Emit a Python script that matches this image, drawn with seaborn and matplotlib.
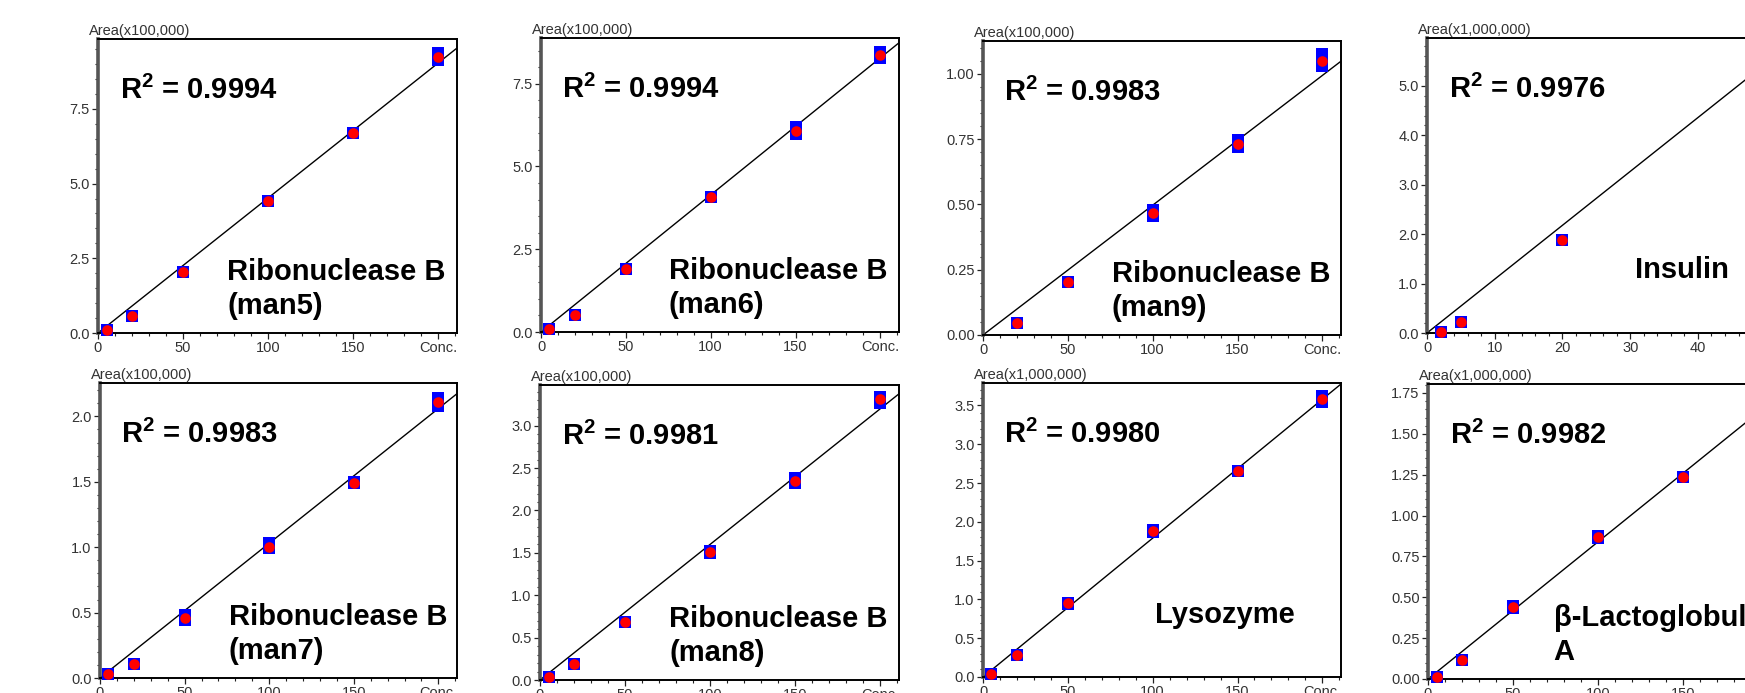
import numpy as np
import pandas as pd
import matplotlib
matplotlib.use("Agg")
import matplotlib.pyplot as plt
import seaborn as sns
from matplotlib.ticker import MultipleLocator, FixedLocator, FixedFormatter

# concentrations
conc_rib = [5, 20, 50, 100, 150, 200]
conc_man9 = [20, 50, 100, 150, 200]
conc_ins = [2, 5, 20]
conc_lac = [5, 20, 50, 100, 150]

# peak areas (two replicates in blue, mean in red)
man5_rep1 = [0.10, 0.57, 2.03, 4.43, 6.70, 9.36]
man5_rep2 = [0.10, 0.57, 2.03, 4.43, 6.68, 9.13]
man5_mean = [0.10, 0.57, 2.03, 4.43, 6.68, 9.25]

man6_rep1 = [0.09, 0.52, 1.90, 4.07, 6.18, 8.45]
man6_rep2 = [0.09, 0.52, 1.90, 4.07, 5.98, 8.27]
man6_mean = [0.09, 0.52, 1.90, 4.07, 6.08, 8.38]

man9_rep1 = [0.045, 0.204, 0.480, 0.745, 1.075]
man9_rep2 = [0.045, 0.204, 0.455, 0.720, 1.030]
man9_mean = [0.045, 0.204, 0.466, 0.733, 1.050]

ins_rep1 = [0.03, 0.22, 1.89]
ins_rep2 = [0.03, 0.22, 1.89]
ins_mean = [0.03, 0.22, 1.89]

man7_rep1 = [0.028, 0.11, 0.48, 1.03, 1.50, 2.14]
man7_rep2 = [0.028, 0.11, 0.44, 0.99, 1.49, 2.08]
man7_mean = [0.028, 0.11, 0.46, 1.004, 1.494, 2.11]

man8_rep1 = [0.04, 0.19, 0.69, 1.52, 2.38, 3.34]
man8_rep2 = [0.04, 0.19, 0.69, 1.50, 2.32, 3.27]
man8_mean = [0.04, 0.19, 0.69, 1.51, 2.35, 3.31]

lys_rep1 = [0.043, 0.29, 0.95, 1.89, 2.66, 3.62]
lys_rep2 = [0.043, 0.29, 0.94, 1.87, 2.66, 3.54]
lys_mean = [0.043, 0.29, 0.95, 1.88, 2.66, 3.58]

lac_rep1 = [0.012, 0.118, 0.445, 0.875, 1.236]
lac_rep2 = [0.012, 0.118, 0.435, 0.865, 1.236]
lac_mean = [0.012, 0.118, 0.44, 0.87, 1.236]

# calibration line slopes (through origin)
slopes = [0.0452, 0.0414, 0.00497, 0.109, 0.0103, 0.0160, 0.0179, 0.0084]
r2_values = ["0.9994", "0.9994", "0.9983", "0.9976", "0.9983", "0.9981", "0.9980", "0.9982"]
names = ["Ribonuclease B\n(man5)", "Ribonuclease B\n(man6)", "Ribonuclease B\n(man9)", "Insulin",
         "Ribonuclease B\n(man7)", "Ribonuclease B\n(man8)", "Lysozyme", "β-Lactoglobulin\nA"]
units = ["Area(x100,000)", "Area(x100,000)", "Area(x100,000)", "Area(x1,000,000)",
         "Area(x100,000)", "Area(x100,000)", "Area(x1,000,000)", "Area(x1,000,000)"]

panels = [
    (conc_rib, man5_rep1, man5_rep2, man5_mean),
    (conc_rib, man6_rep1, man6_rep2, man6_mean),
    (conc_man9, man9_rep1, man9_rep2, man9_mean),
    (conc_ins, ins_rep1, ins_rep2, ins_mean),
    (conc_rib, man7_rep1, man7_rep2, man7_mean),
    (conc_rib, man8_rep1, man8_rep2, man8_mean),
    (conc_rib, lys_rep1, lys_rep2, lys_mean),
    (conc_lac, lac_rep1, lac_rep2, lac_mean),
]

# layout (pixels: left, top, width, height) and axis settings
boxes = [(98, 39, 359, 294), (541, 38, 358, 294), (983, 41, 358, 294), (1427, 38, 359, 295),
         (100, 383, 357, 295), (540, 385, 359, 295), (983, 383, 358, 294), (1428, 384, 359, 295)]
ymax = [9.84, 8.88, 1.126, 5.97, 2.255, 3.48, 3.79, 1.805]
ymajor = [2.5, 2.5, 0.25, 1.0, 0.5, 0.5, 0.5, 0.25]
yminor = [0.5, 0.5, 0.05, 0.2, 0.1, 0.1, 0.1, 0.05]
yfmt = ["%.1f", "%.1f", "%.2f", "%.1f", "%.1f", "%.1f", "%.1f", "%.2f"]
name_x = [0.36, 0.357, 0.36, 0.58, 0.36, 0.36, 0.48, 0.35]

sns.set_theme(style="ticks")
plt.rcParams["font.family"] = ["Liberation Sans", "DejaVu Sans"]
plt.rcParams["mathtext.fontset"] = "custom"
plt.rcParams["mathtext.rm"] = "Liberation Sans"
plt.rcParams["mathtext.bf"] = "Liberation Sans:bold"

W, H = 1745, 693
fig = plt.figure(figsize=(W / 100, H / 100), dpi=100)

for i, (conc, r1, r2, mean) in enumerate(panels):
    l, t, w, h = boxes[i]
    ax = fig.add_axes([l / W, (H - t - h) / H, w / W, h / H])
    insulin = names[i] == "Insulin"
    xmax = 53.0 if insulin else 211.0

    reps = pd.DataFrame({"conc": list(conc) * 2, "area": list(r1) + list(r2)})
    means = pd.DataFrame({"conc": conc, "area": mean})
    fit = pd.DataFrame({"conc": [0, xmax], "area": [0, slopes[i] * xmax]})

    sns.lineplot(data=fit, x="conc", y="area", ax=ax, color="black", linewidth=1.0, legend=False)
    sns.scatterplot(data=reps, x="conc", y="area", ax=ax, marker="s", color="#0000ff",
                    s=72, linewidth=0, legend=False, clip_on=False, zorder=3)
    sns.scatterplot(data=means, x="conc", y="area", ax=ax, marker="o", color="#ff0000",
                    s=58, linewidth=0, legend=False, clip_on=False, zorder=4)

    ax.set_xlim(0, xmax)
    ax.set_ylim(0, ymax[i])
    ax.set_xlabel("")
    ax.set_ylabel("")

    if insulin:
        xt = [0, 10, 20, 30, 40, 50]
        ax.xaxis.set_minor_locator(MultipleLocator(2))
    else:
        xt = [0, 50, 100, 150, 200]
        ax.xaxis.set_minor_locator(MultipleLocator(10))
    ax.xaxis.set_major_locator(FixedLocator(xt))
    ax.xaxis.set_major_formatter(FixedFormatter([str(v) for v in xt[:-1]] + ["Conc."]))
    ax.yaxis.set_major_locator(MultipleLocator(ymajor[i]))
    ax.yaxis.set_minor_locator(MultipleLocator(yminor[i]))
    ax.yaxis.set_major_formatter(matplotlib.ticker.FormatStrFormatter(yfmt[i]))

    ax.tick_params(which="major", direction="out", length=4.5, width=0.9, color="#222222",
                   labelsize=10.5, labelcolor="#333333", pad=1.5)
    ax.tick_params(which="minor", direction="out", length=2.3, width=0.8, color="#222222")

    for side in ["top", "right", "bottom"]:
        ax.spines[side].set_visible(True)
        ax.spines[side].set_color("black")
        ax.spines[side].set_linewidth(1.4)
    ax.spines["left"].set_color("#555555")
    ax.spines["left"].set_linewidth(2.6)
    ax.set_facecolor("white")

    ax.text(-0.025, 1.003, units[i], transform=ax.transAxes, ha="left", va="bottom",
            fontsize=10.5, color="#333333")
    ax.text(0.06, 0.795, r"$\mathbf{R^{2}}$ = " + r2_values[i], transform=ax.transAxes,
            ha="left", va="baseline", fontsize=21, fontweight="bold", color="black")
    if "\n" in names[i]:
        ax.text(name_x[i], 0.045, names[i], transform=ax.transAxes, ha="left", va="bottom",
                fontsize=21, fontweight="bold", color="black", linespacing=1.25)
    else:
        ax.text(name_x[i], 0.185, names[i], transform=ax.transAxes, ha="left", va="baseline",
                fontsize=21, fontweight="bold", color="black")

fig.savefig("out.png", dpi=100, facecolor="white")
